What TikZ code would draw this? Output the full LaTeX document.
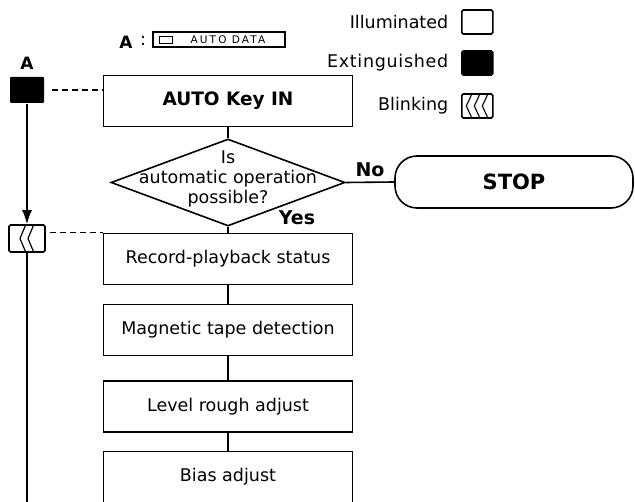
\documentclass[tikz,border=0pt]{standalone}
\usepackage{fontspec}
\setmainfont{DejaVu Sans}
\usetikzlibrary{arrows.meta,positioning,shapes.geometric}

\begin{document}
\begin{tikzpicture}[
  x=1pt, y=-1pt,
  line width=1.6pt,
  font=\fontsize{17.5}{20}\selectfont,
  stepbox/.style={draw, minimum width=249pt, minimum height=51pt, inner sep=0pt},
  decide/.style={draw, diamond, minimum width=234pt, minimum height=87pt, inner sep=0pt},
  lamp/.style={draw, rounded corners=1.5pt, minimum width=31pt, minimum height=24pt, inner sep=0pt},
  lbl/.style={anchor=east, inner sep=0pt},
  tag/.style={font=\bfseries\fontsize{19}{21}\selectfont, inner sep=0pt},
  arr/.style={-{Latex[length=14pt,width=10pt]}},
  link/.style={dash pattern=on 6pt off 4pt, line width=1.1pt}
]
\useasboundingbox (0,0) rectangle (635,502);

% legend
\node[lbl] (illum) at (449,22) {Illuminated};
\node[lamp, right=12pt of illum] (lampon) {};
\node[lbl, font=\fontsize{17.5}{20}\selectfont\addfontfeatures{LetterSpace=4}] (ext) at (449,63) {Extinguished};
\node[lamp, fill, right=12pt of ext] (lampoff) {};
\node[lbl] (blk) at (449,106) {Blinking};
\node[lamp, right=12pt of blk] (lampblk) {};
\foreach \dx in {-8,0,8}
  \draw[line width=1.1pt] ([xshift=\dx pt+3pt]lampblk.north) -- ([xshift=\dx pt-3pt]lampblk.center) -- ([xshift=\dx pt+3pt]lampblk.south);

% key panel
\node[font=\bfseries\fontsize{17}{19}\selectfont] (akey) at (126,42) {A};
\node (colon) at (143,41) {:};
\node[draw, line width=1.1pt, minimum width=132pt, minimum height=15pt, inner sep=0pt] (panel) at (219,39.5) {};
\node[draw, line width=1pt, minimum width=13pt, minimum height=7pt, inner sep=0pt] (btn) at (166,40) {};
\node[font=\fontsize{10.5}{12}\selectfont\addfontfeatures{LetterSpace=20}] (ptxt) at (228,40) {AUTO DATA};

% flow
\node[stepbox, font=\bfseries\fontsize{18.5}{21}\selectfont] (keyin) at (228,101) {AUTO Key IN};
\node[decide] (dec) at (228,182.5) {};
\node[align=center, inner sep=0pt] (ask) at (228,179) {Is\\automatic operation\\possible?};
\node[draw, rounded corners=22pt, minimum width=238pt, minimum height=52pt,
      font=\bfseries\fontsize{21}{23}\selectfont] (stop) at (514,182) {STOP};
\node[tag] (no) at (370,170) {No};
\node[tag] (yes) at (297,218) {Yes};
\node[stepbox] (rec) at (228,259) {Record-playback status};
\node[stepbox] (mag) at (228,330) {Magnetic tape detection};
\node[stepbox] (lvl) at (228,406.5) {Level rough adjust};
\node[stepbox] (bias) at (228,477) {Bias adjust};

\draw (keyin) -- (dec);
\draw (dec) -- (rec);
\draw (dec.east) -- (stop.west);
\draw (rec) -- (mag);
\draw (mag) -- (lvl);
\draw (lvl) -- (bias);

% lamp A
\node[font=\bfseries\fontsize{17}{19}\selectfont] (alab) at (27,63) {A};
\node[fill, rounded corners=1pt, minimum width=34pt, minimum height=26pt, inner sep=0pt] (sqa) at (27,90) {};
\node[lamp, minimum width=36pt, minimum height=27pt] (blink) at (27,238.5) {};
\foreach \dx in {-1,7}
  \draw[line width=1.2pt] ([xshift=\dx pt]blink.north) -- ([xshift=\dx pt-6pt]blink.center) -- ([xshift=\dx pt]blink.south);
\coordinate (bot) at (27,503);

\draw[arr] (sqa) -- (blink);
\draw (blink) -- (bot);
\draw[link] ([xshift=7pt]sqa.east) -- (sqa.east -| keyin.west);
\draw[link] ([xshift=4pt]blink.east |- rec.north west) -- (rec.north west);
\end{tikzpicture}
\end{document}
